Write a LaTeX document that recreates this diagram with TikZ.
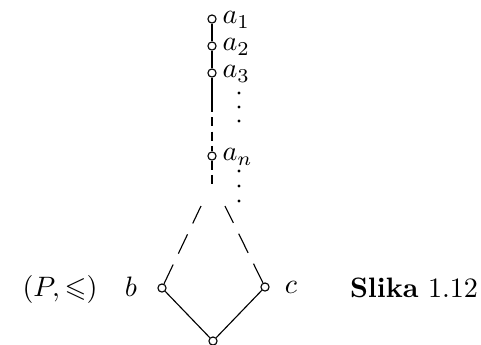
\documentclass[tikz,border=0pt]{standalone}
\usepackage{amssymb}
\begin{document}
\begin{tikzpicture}[x=0.356pt,y=-0.356pt,
  vtx/.style={circle,draw,minimum size=2.9pt,inner sep=0pt,line width=0.4pt},
  lbl/.style={inner sep=0pt},
  edge/.style={line width=0.4pt},
  vdash/.style={line width=0.4pt,dash pattern=on 3.2pt off 1.9pt},
  ddash/.style={line width=0.4pt,dash pattern=on 7.6pt off 4.3pt},
  dotp/.style={circle,fill,inner sep=0pt,minimum size=1.1pt}]
\useasboundingbox (0,0) rectangle (481,344);
\node[vtx] (a1) at (212,19) {};
\node[vtx] (a2) at (212,46) {};
\node[vtx] (a3) at (212,73) {};
\node[vtx] (an) at (212,156) {};
\node[vtx] (b) at (162,288) {};
\node[vtx] (c) at (265,287) {};
\node[vtx] (d) at (213,341) {};
\coordinate (s3) at (212,103);
\coordinate (sn) at (212,186);
\coordinate (tb) at (201,206);
\coordinate (tc) at (225,206);
\node[lbl,anchor=west] (la1) at (222,20) {$a_1$};
\node[lbl,anchor=west] (la2) at (222,47) {$a_2$};
\node[lbl,anchor=west] (la3) at (222,74) {$a_3$};
\node[lbl,anchor=west] (lan) at (222,157) {$a_n$};
\node[lbl] (lb) at (131,287) {$b$};
\node[lbl] (lc) at (291,287) {$c$};
\node[lbl] (lp) at (60,289) {$(P,\leqslant)$};
\node[lbl] (sl) at (414,288) {\textbf{Slika} 1.12};
\draw[edge] (a1) -- (a2);
\draw[edge] (a2) -- (a3);
\draw[edge] (a3) -- (s3);
\draw[vdash] (s3) -- (an);
\draw[vdash] (an) -- (sn);
\draw[ddash] (b) -- (tb);
\draw[ddash] (c) -- (tc);
\draw[edge] (b) -- (d);
\draw[edge] (c) -- (d);
\foreach \y [count=\i] in {93,107,121,171,186,201}
  \node[dotp] (dot\i) at (239,\y) {};
\end{tikzpicture}
\end{document}
